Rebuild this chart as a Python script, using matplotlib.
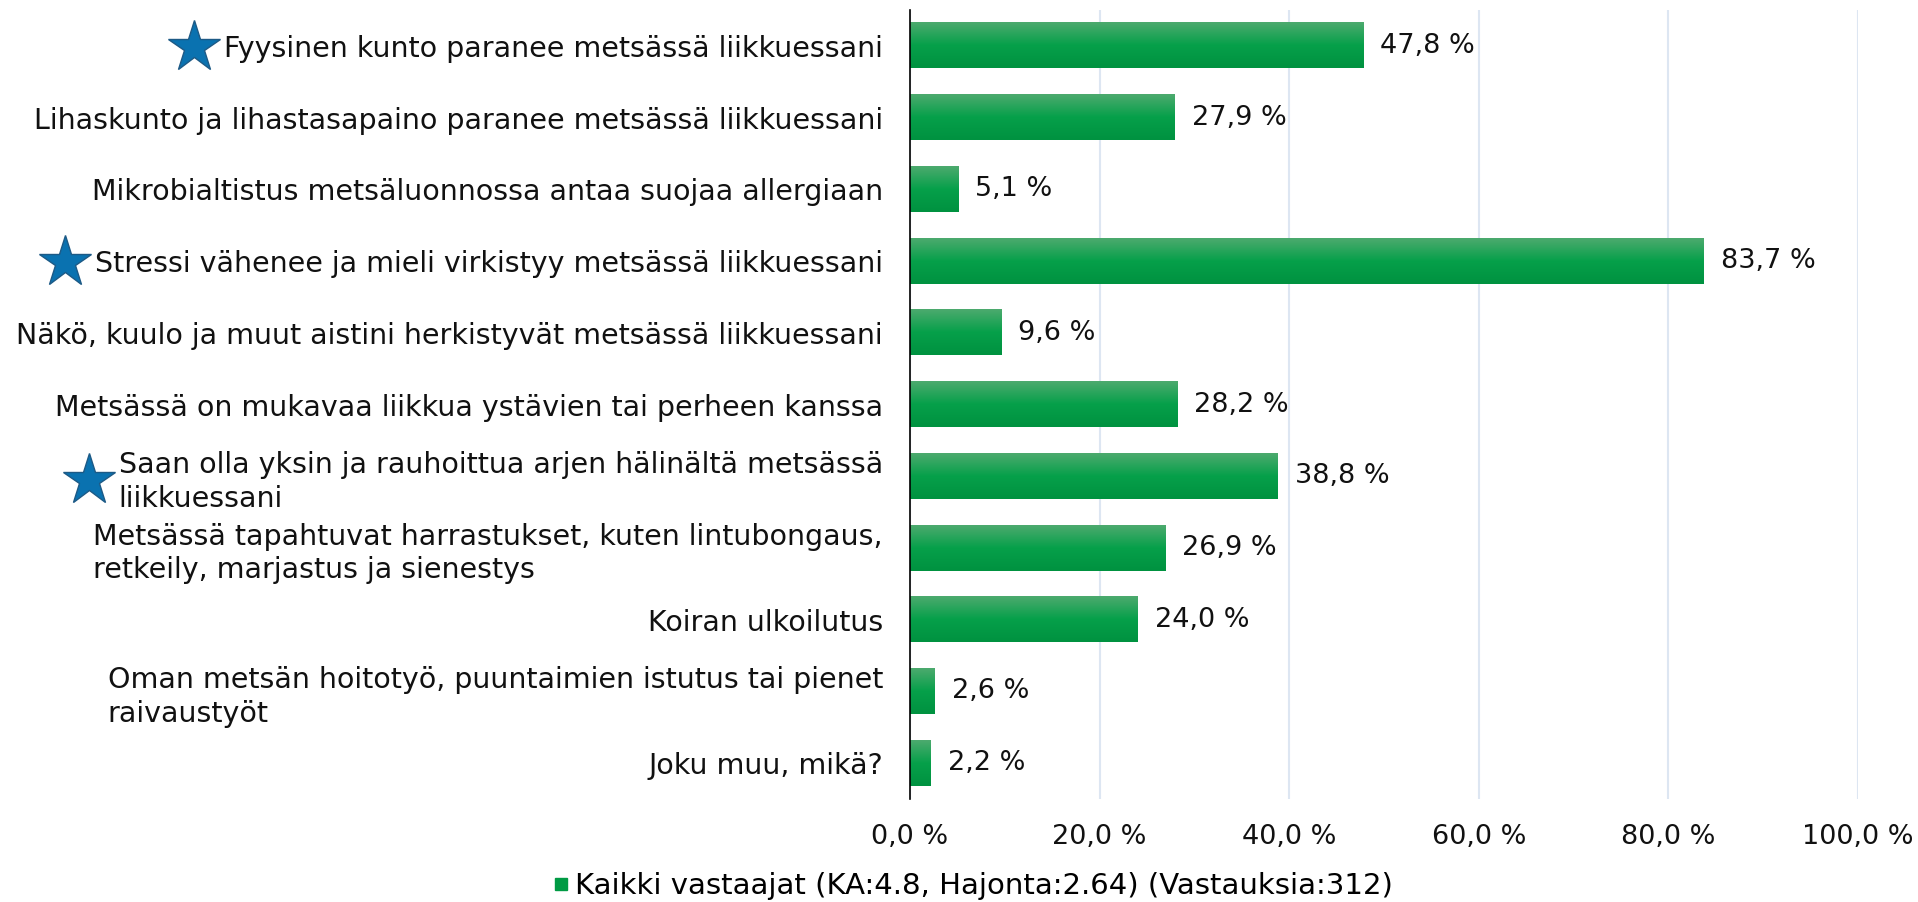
import numpy as np
import matplotlib
matplotlib.use('Agg')
import matplotlib.pyplot as plt
from matplotlib.colors import LinearSegmentedColormap
from matplotlib.lines import Line2D

labels = [
    'Fyysinen kunto paranee metsässä liikkuessani',
    'Lihaskunto ja lihastasapaino paranee metsässä liikkuessani',
    'Mikrobialtistus metsäluonnossa antaa suojaa allergiaan',
    'Stressi vähenee ja mieli virkistyy metsässä liikkuessani',
    'Näkö, kuulo ja muut aistini herkistyvät metsässä liikkuessani',
    'Metsässä on mukavaa liikkua ystävien tai perheen kanssa',
    'Saan olla yksin ja rauhoittua arjen hälinältä metsässä\nliikkuessani',
    'Metsässä tapahtuvat harrastukset, kuten lintubongaus,\nretkeily, marjastus ja sienestys',
    'Koiran ulkoilutus',
    'Oman metsän hoitotyö, puuntaimien istutus tai pienet\nraivaustyöt',
    'Joku muu, mikä?',
]
values = [47.8, 27.9, 5.1, 83.7, 9.6, 28.2, 38.8, 26.9, 24.0, 2.6, 2.2]
starred = [0, 3, 6]
tick_vals = [0, 20, 40, 60, 80, 100]
legend_label = 'Kaikki vastaajat (KA:4.8, Hajonta:2.64) (Vastauksia:312)'

plt.rcParams['font.family'] = ['DejaVu Sans']
FS = 19.5
FS_LABEL = 20.5

W, H = 1918, 902
fig = plt.figure(figsize=(W / 100, H / 100), dpi=100)
ax = fig.add_axes([910 / W, 1 - 799 / H, 948 / W, 789 / H])

y = np.arange(len(labels))
bars = ax.barh(y, values, height=0.63, color='#009a44', zorder=2)

# vertical gradient on each bar
grad = LinearSegmentedColormap.from_list('g', ['#4caa6e', '#06a04a', '#009240'])
for b in bars:
    x0, y0, w, h = b.get_x(), b.get_y(), b.get_width(), b.get_height()
    ax.imshow(np.linspace(0, 1, 64).reshape(-1, 1), cmap=grad, aspect='auto',
              extent=(x0, x0 + w, y0 + h, y0), zorder=3)

for i, v in enumerate(values):
    ax.text(v + 1.8, i, f'{v:.1f} %'.replace('.', ','), va='center', ha='left',
            fontsize=FS, color='#111111')

ax.set_xlim(0, 100)
ax.set_ylim(len(labels) - 0.5, -0.5)
ax.set_xticks(tick_vals)
ax.set_xticklabels([f'{t:.1f} %'.replace('.', ',') for t in tick_vals], fontsize=FS)
ax.set_yticks(y)
ax.set_yticklabels(labels, fontsize=FS_LABEL, multialignment='left', linespacing=1.25)
ax.tick_params(axis='both', length=0, colors='#111111')
ax.tick_params(axis='y', pad=19.5)
ax.tick_params(axis='x', pad=18)
ax.xaxis.grid(True, color='#dde6f2', lw=1.5)
ax.set_axisbelow(True)
for s in ['top', 'right', 'bottom']:
    ax.spines[s].set_visible(False)
ax.spines['left'].set_color('black')
ax.spines['left'].set_linewidth(1.2)
ax.spines['left'].set_zorder(5)

handle = Line2D([], [], marker='s', ls='none', color='#009a44', markersize=9)
fig.legend([handle], [legend_label], loc='center', bbox_to_anchor=(971 / W, 1 - 886 / H),
           frameon=False, fontsize=21, handletextpad=0.1, handlelength=0.8)

# stars in front of highlighted labels
fig.canvas.draw()
renderer = fig.canvas.get_renderer()
ticklabels = ax.get_yticklabels()
for i in starred:
    bb = ticklabels[i].get_window_extent(renderer)
    xs = bb.x0 - 30
    ys = (bb.y0 + bb.y1) / 2 + 2
    fig.add_artist(Line2D([xs / W], [ys / H], transform=fig.transFigure, marker='*',
                          markersize=39, markerfacecolor='#0a72b0',
                          markeredgecolor='#1d5a86', markeredgewidth=1.0))

fig.savefig('out.png', dpi=100)
